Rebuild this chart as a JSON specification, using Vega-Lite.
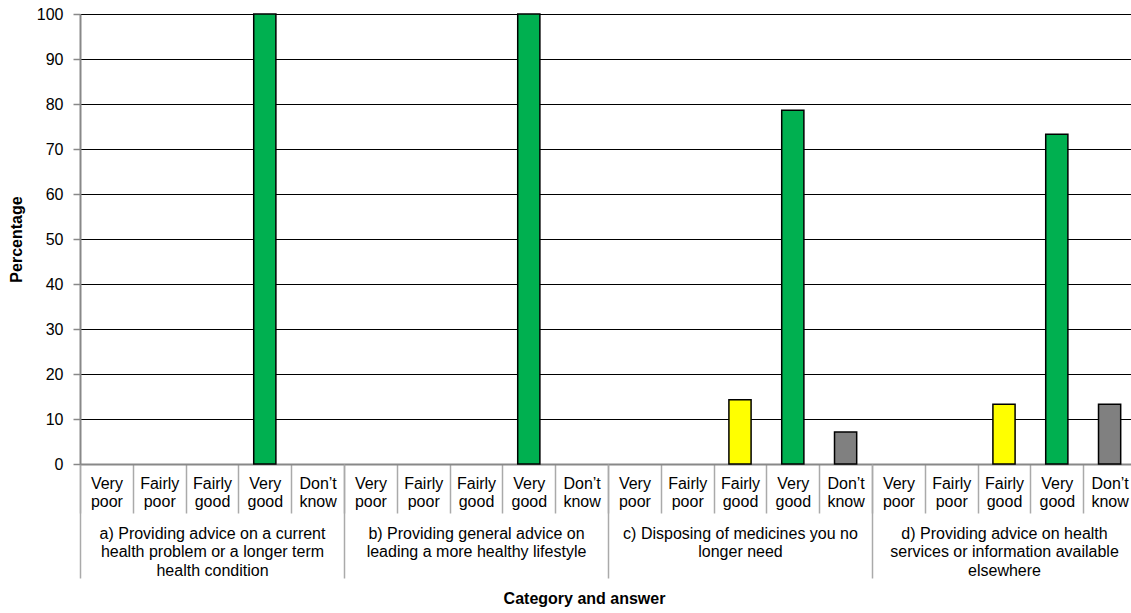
{
  "$schema": "https://vega.github.io/schema/vega-lite/v6.json",
  "width": 1131,
  "height": 613,
  "autosize": {"type": "fit", "contains": "padding"},
  "padding": {"left": 8, "top": 6, "right": -6, "bottom": 6},
  "config": {
    "font": "Liberation Sans",
    "view": {"stroke": null},
    "axis": {"labelColor": "#000", "titleColor": "#000", "labelFontSize": 16, "titleFontSize": 16, "titleFontWeight": "bold"}
  },
  "data": {
    "values": [
      {"group": "a) Providing advice on a current|health problem or a longer term|health condition", "answer": "Very poor", "key": "a|Very poor", "pct": 0},
      {"group": "a) Providing advice on a current|health problem or a longer term|health condition", "answer": "Fairly poor", "key": "a|Fairly poor", "pct": 0},
      {"group": "a) Providing advice on a current|health problem or a longer term|health condition", "answer": "Fairly good", "key": "a|Fairly good", "pct": 0},
      {"group": "a) Providing advice on a current|health problem or a longer term|health condition", "answer": "Very good", "key": "a|Very good", "pct": 100},
      {"group": "a) Providing advice on a current|health problem or a longer term|health condition", "answer": "Don’t know", "key": "a|Don’t know", "pct": 0},
      {"group": "b) Providing general advice on|leading a more healthy lifestyle", "answer": "Very poor", "key": "b|Very poor", "pct": 0},
      {"group": "b) Providing general advice on|leading a more healthy lifestyle", "answer": "Fairly poor", "key": "b|Fairly poor", "pct": 0},
      {"group": "b) Providing general advice on|leading a more healthy lifestyle", "answer": "Fairly good", "key": "b|Fairly good", "pct": 0},
      {"group": "b) Providing general advice on|leading a more healthy lifestyle", "answer": "Very good", "key": "b|Very good", "pct": 100},
      {"group": "b) Providing general advice on|leading a more healthy lifestyle", "answer": "Don’t know", "key": "b|Don’t know", "pct": 0},
      {"group": "c) Disposing of medicines you no|longer need", "answer": "Very poor", "key": "c|Very poor", "pct": 0},
      {"group": "c) Disposing of medicines you no|longer need", "answer": "Fairly poor", "key": "c|Fairly poor", "pct": 0},
      {"group": "c) Disposing of medicines you no|longer need", "answer": "Fairly good", "key": "c|Fairly good", "pct": 14.3},
      {"group": "c) Disposing of medicines you no|longer need", "answer": "Very good", "key": "c|Very good", "pct": 78.6},
      {"group": "c) Disposing of medicines you no|longer need", "answer": "Don’t know", "key": "c|Don’t know", "pct": 7.1},
      {"group": "d) Providing advice on health|services or information available|elsewhere", "answer": "Very poor", "key": "d|Very poor", "pct": 0},
      {"group": "d) Providing advice on health|services or information available|elsewhere", "answer": "Fairly poor", "key": "d|Fairly poor", "pct": 0},
      {"group": "d) Providing advice on health|services or information available|elsewhere", "answer": "Fairly good", "key": "d|Fairly good", "pct": 13.3},
      {"group": "d) Providing advice on health|services or information available|elsewhere", "answer": "Very good", "key": "d|Very good", "pct": 73.3},
      {"group": "d) Providing advice on health|services or information available|elsewhere", "answer": "Don’t know", "key": "d|Don’t know", "pct": 13.3}
    ]
  },
  "layer": [
    {
      "mark": {"type": "bar", "width": {"band": 0.42}, "stroke": "#000", "strokeWidth": 1.5},
      "encoding": {
        "x": {
          "field": "key", "type": "nominal", "sort": null,
          "scale": {"paddingInner": 0, "paddingOuter": 0},
          "axis": {
            "orient": "bottom", "title": null, "grid": false,
            "domainColor": "#888", "domainWidth": 2,
            "tickColor": "#aaa", "tickWidth": 1.5, "tickSize": 49, "tickBand": "extent",
            "labelExpr": "isValid(datum.value) ? split(split(datum.value, '|')[1], ' ') : ''",
            "labelAngle": 0, "labelPadding": -38, "labelLineHeight": 18.5,
            "labelOverlap": false, "labelBound": false
          }
        },
        "y": {
          "field": "pct", "type": "quantitative",
          "scale": {"domain": [0, 100]},
          "axis": {
            "title": "Percentage", "titlePadding": 12,
            "values": [0, 10, 20, 30, 40, 50, 60, 70, 80, 90, 100],
            "grid": true, "gridColor": "#000", "gridWidth": 1,
            "domainColor": "#888", "domainWidth": 2,
            "tickColor": "#888", "tickSize": 7, "tickWidth": 1.5,
            "labelPadding": 10
          }
        },
        "color": {
          "field": "answer", "type": "nominal",
          "scale": {
            "domain": ["Very poor", "Fairly poor", "Fairly good", "Very good", "Don’t know"],
            "range": ["#FF0000", "#FFC000", "#FFFF00", "#00B050", "#808080"]
          },
          "legend": null
        },
        "strokeOpacity": {"condition": {"test": "datum.pct === 0", "value": 0}, "value": 1}
      }
    },
    {
      "mark": {"type": "bar", "opacity": 0},
      "encoding": {
        "x": {
          "field": "group", "type": "nominal", "sort": null,
          "scale": {"paddingInner": 0, "paddingOuter": 0},
          "axis": {
            "orient": "bottom", "title": "Category and answer", "titlePadding": 12,
            "titleX": 504, "titleAlign": "center",
            "domain": false, "grid": false,
            "tickColor": "#aaa", "tickWidth": 1.5, "tickSize": 114, "tickBand": "extent",
            "labelExpr": "isValid(datum.value) ? split(datum.value, '|') : ''",
            "labelAngle": 0, "labelPadding": -53, "labelLineHeight": 18.5,
            "labelLimit": 400, "labelOverlap": false, "labelBound": false
          }
        },
        "y": {"field": "pct", "type": "quantitative"}
      }
    }
  ],
  "resolve": {"scale": {"x": "independent"}, "axis": {"x": "independent"}}
}
